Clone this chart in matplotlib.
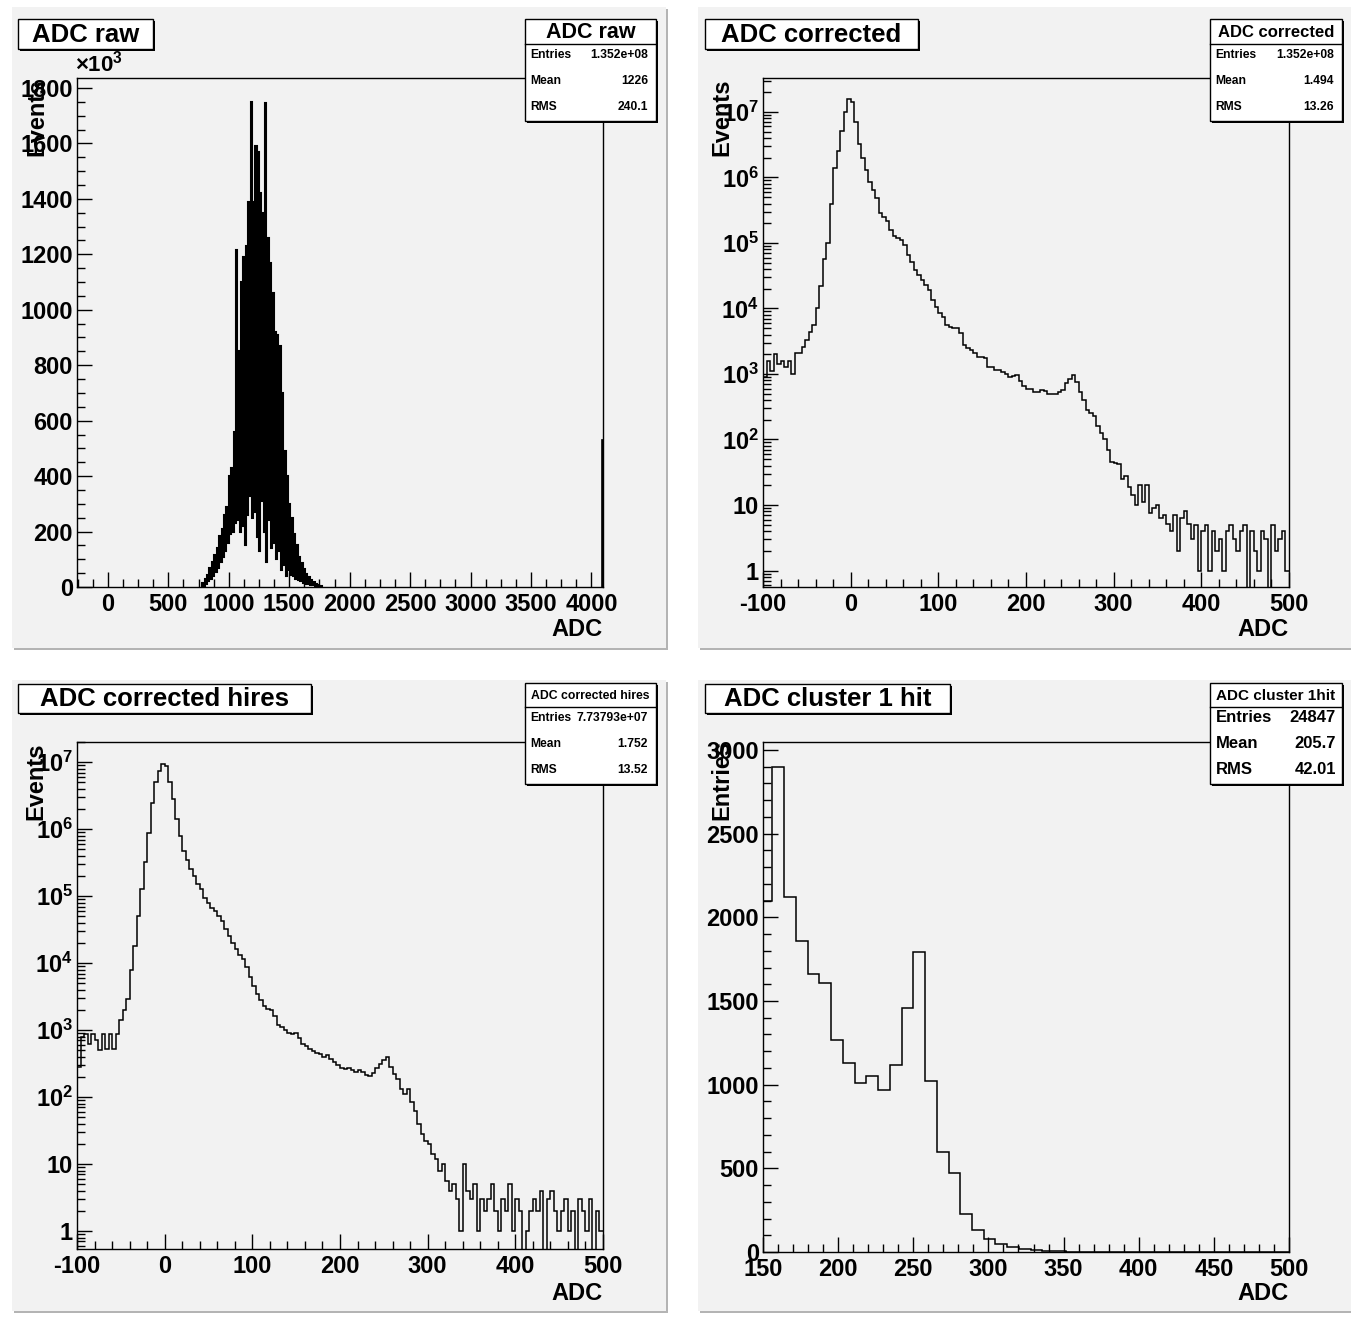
import numpy as np
import matplotlib.pyplot as plt
from matplotlib.patches import Rectangle
from matplotlib.lines import Line2D
from matplotlib.ticker import MultipleLocator, LogLocator, NullFormatter, FixedLocator, FixedFormatter

plt.rcParams['font.family'] = ['Liberation Sans', 'DejaVu Sans']
plt.rcParams['font.weight'] = 'bold'
plt.rcParams['axes.unicode_minus'] = False
plt.rcParams['mathtext.fontset'] = 'custom'
plt.rcParams['mathtext.rm'] = 'Liberation Sans'
plt.rcParams['mathtext.bf'] = 'Liberation Sans:bold'
plt.rcParams['mathtext.default'] = 'bf'

W, H = 1351, 1323
PAD = '#f2f2f2'

# ---- ADC raw (units of 10^3), comb: high bin / low bin pairs, 20 ADC per pair from 780
raw_start = 780
raw_hi = [15, 30, 45, 70, 90, 115, 140, 185, 210, 260,
          290, 400, 430, 560, 1216, 850, 1100, 1190, 1230, 1390,
          1750, 1390, 1590, 1570, 1420, 1350, 1745, 1260, 1170, 1060,
          920, 910, 870, 700, 490, 400, 300, 250, 190, 150,
          110, 85, 65, 48, 35, 25, 17, 11, 7, 4]
raw_lo = [5, 10, 20, 30, 40, 55, 70, 90, 110, 130,
          160, 190, 200, 230, 240, 200, 220, 150, 260, 330,
          250, 270, 180, 130, 310, 200, 90, 240, 140, 160,
          100, 130, 60, 80, 40, 60, 45, 40, 30, 25,
          20, 15, 12, 10, 8, 6, 4, 3, 2, 1]
raw_last = 530  # last bin (4086-4096)

# ---- ADC corrected, 4-ADC bins from -100 to 500
corr = [900, 1600, 1100, 2000, 1400, 1600, 1300, 1600, 1000, 2100,
        2100, 2600, 3300, 4300, 5600, 1.0e4, 2.2e4, 5.6e4, 1.0e5, 4.0e5,
        1.4e6, 2.5e6, 5.2e6, 1.0e7, 1.6e7, 1.4e7, 7.1e6, 3.2e6, 2.0e6, 1.3e6,
        8.5e5, 6.5e5, 4.9e5, 2.9e5, 2.5e5, 2.2e5, 1.6e5, 1.3e5, 1.2e5, 1.1e5,
        9.3e4, 6.6e4, 5.1e4, 3.9e4, 3.2e4, 2.7e4, 2.3e4, 1.9e4, 1.35e4, 1.07e4,
        8500, 7400, 5600, 5200, 5000, 5000, 4200, 2800, 2500, 2300,
        2100, 1800, 1800, 1740, 1300, 1260, 1150, 1150, 1070, 1000,
        910, 930, 980, 790, 650, 600, 600, 540, 540, 560,
        550, 490, 490, 500, 525, 575, 720, 830, 950, 760,
        540, 400, 280, 250, 230, 160, 126, 100, 69, 46,
        44, 42, 25, 28, 19, 14, 10, 20, 11, 20,
        7.6, 9, 10, 6.3, 7, 5.2, 4, 7, 2, 6.3,
        8, 5.2, 3, 5, 1, 4, 5, 1, 4, 2,
        3, 1, 4, 5, 3, 2, 4, 5, 0, 4,
        2, 1, 4, 3, 0, 5, 2, 3, 4, 1]

# ---- ADC corrected hires, 4-ADC bins from -100 to 500
hires = [280, 800, 890, 630, 890, 710, 500, 890, 520, 890,
         520, 890, 1400, 2000, 2950, 7900, 1.8e4, 5.0e4, 1.26e5, 3.2e5,
         8.9e5, 2.45e6, 5.0e6, 7.4e6, 9.3e6, 8.9e6, 5.0e6, 2.8e6, 1.4e6, 7.9e5,
         4.8e5, 3.5e5, 2.5e5, 2.0e5, 1.5e5, 1.26e5, 9.5e4, 7.9e4, 6.6e4, 6.0e4,
         5.0e4, 4.2e4, 3.2e4, 2.5e4, 2.0e4, 1.6e4, 1.3e4, 1.15e4, 8900, 6300,
         4500, 3500, 2800, 2300, 2100, 2000, 1600, 1200, 1100, 1000,
         910, 890, 910, 760, 630, 575, 525, 480, 460, 440,
         400, 425, 370, 330, 300, 275, 260, 275, 250, 240,
         255, 240, 215, 205, 230, 270, 315, 355, 400, 280,
         225, 185, 130, 112, 130, 85, 63, 40, 28, 22,
         20, 14, 12, 8, 10, 5.6, 4, 5, 3, 1,
         10, 4, 3, 5, 1, 3, 2, 3, 5, 2,
         1, 3, 2, 5, 1, 3, 2, 0, 1, 2,
         3, 2, 4, 0, 3, 4, 2, 1, 2, 3,
         1, 2, 0, 3, 2, 1, 3, 0, 2, 1]

# ---- ADC cluster 1 hit, 64 bins over 0-500, shown from bin 19 on
clus = [2100, 2900, 2120, 1860, 1660, 1610, 1270, 1130, 1010, 1050,
        970, 1120, 1460, 1790, 1020, 600, 470, 230, 130, 80,
        50, 30, 18, 10, 6, 4, 2, 1, 1, 0,
        0, 0, 0, 0, 0, 0, 0, 0, 0, 0,
        0, 0, 0, 0, 0]

log_ticks = [1, 10, 100, 1e3, 1e4, 1e5, 1e6, 1e7]
log_labels = ['1', '10', '$10^{2}$', '$10^{3}$', '$10^{4}$', '$10^{5}$', '$10^{6}$', '$10^{7}$']

fig = plt.figure(figsize=(W / 100, H / 100), dpi=100)
fig.patch.set_facecolor('white')


def rect(x0, y0, x1, y1, z, **kw):
    r = Rectangle((x0 / W, 1 - y1 / H), (x1 - x0) / W, (y1 - y0) / H,
                  transform=fig.transFigure, zorder=z, **kw)
    fig.add_artist(r)


def ftext(x, y, s, **kw):
    fig.text(x / W, 1 - y / H, s, **kw)


def hline(x0, x1, y, z=6):
    fig.add_artist(Line2D([x0 / W, x1 / W], [1 - y / H, 1 - y / H], color='black',
                          lw=1.0, transform=fig.transFigure, zorder=z))


def pad(x0, y0, x1, y1):
    rect(x0 + 2, y0 + 2, x1 + 2, y1 + 2, -3, facecolor='#b4b4b4', edgecolor='none')
    rect(x0, y0, x1, y1, -2, facecolor=PAD, edgecolor='none')


def title_box(x0, y0, x1, y1, s):
    rect(x0 + 2, y0 + 2, x1 + 2, y1 + 2, 5, facecolor='black', edgecolor='none')
    rect(x0, y0, x1, y1, 5.5, facecolor='white', edgecolor='black', lw=1.0)
    ftext((x0 + x1) / 2, (y0 + y1) / 2 + 1, s, ha='center', va='center',
          fontsize=18.5, zorder=7)


def stat_box(x0, y0, x1, y1, ysep, name, hsize, rows, rsize, rows_y, lx, rx):
    rect(x0 + 2, y0 + 2, x1 + 2, y1 + 2, 5, facecolor='black', edgecolor='none')
    rect(x0, y0, x1, y1, 5.5, facecolor='white', edgecolor='black', lw=1.0)
    hline(x0, x1, ysep)
    ftext((x0 + x1) / 2, (y0 + ysep) / 2 + 1, name, ha='center', va='center',
          fontsize=hsize, zorder=7)
    for (k, v), yy in zip(rows, rows_y):
        ftext(lx, yy, k, ha='left', va='center', fontsize=rsize, zorder=7)
        ftext(rx, yy, v, ha='right', va='center', fontsize=rsize, zorder=7)


def make_axes(x0, y0, x1, y1):
    ax = fig.add_axes([x0 / W, 1 - y1 / H, (x1 - x0) / W, (y1 - y0) / H])
    ax.set_facecolor(PAD)
    for s in ax.spines.values():
        s.set_linewidth(1.0)
    ax.tick_params(which='both', direction='in', top=False, right=False,
                   labelsize=17, width=1.0)
    ax.tick_params(axis='x', which='major', length=11, pad=4)
    ax.tick_params(axis='x', which='minor', length=5.5)
    ax.tick_params(axis='y', which='major', length=11, pad=3)
    ax.tick_params(axis='y', which='minor', length=5.5)
    return ax


def log_axis(ax):
    ax.set_yscale('log')
    ax.yaxis.set_major_locator(FixedLocator(log_ticks))
    ax.yaxis.set_major_formatter(FixedFormatter(log_labels))
    ax.yaxis.set_minor_locator(LogLocator(base=10, subs=np.arange(2, 10), numticks=30))
    ax.yaxis.set_minor_formatter(NullFormatter())


# pads
pad(12, 7, 666, 648)
pad(698, 7, 1351, 648)
pad(12, 680, 666, 1311)
pad(698, 680, 1351, 1311)

# ---------------- ADC raw
ax = make_axes(77, 78, 603, 587)
raw_vals = np.ravel(np.column_stack([raw_hi, raw_lo]))
raw_edges = raw_start + 10 * np.arange(len(raw_vals) + 1)
ax.stairs(raw_vals, raw_edges, color='black', lw=1.5, baseline=0)
ax.stairs([raw_last], [4086, 4096], color='black', lw=1.2, baseline=0)
ax.set_xlim(-256, 4096)
ax.set_ylim(0, 1836)
ax.xaxis.set_major_locator(MultipleLocator(500))
ax.xaxis.set_minor_locator(MultipleLocator(125))
ax.yaxis.set_major_locator(MultipleLocator(200))
ax.yaxis.set_minor_locator(MultipleLocator(50))
ftext(75, 64, r'$\mathrm{\times10^{3}}$', ha='left', va='center', fontsize=16,
      fontweight='normal')
ftext(603, 630, 'ADC', ha='right', va='center', fontsize=17)
ftext(37, 79, 'Events', ha='center', va='top', rotation=90, fontsize=17)
title_box(18, 19, 153, 49, 'ADC raw')
stat_box(525, 19, 656, 121, 44, 'ADC raw', 15.5,
         [('Entries', '1.352e+08'), ('Mean', '1226'), ('RMS', '240.1')], 8.7,
         [55, 81, 107], 530, 648)

# ---------------- ADC corrected
edges4 = np.arange(-100, 501, 4)
ax = make_axes(763, 78, 1289, 587)
cv = np.array(corr, dtype=float)
ax.stairs(np.where(cv > 0, cv, 1e-2), edges4, color='black', lw=1.1, baseline=None)
log_axis(ax)
ax.set_xlim(-100, 500)
ax.set_ylim(0.56, 3.3e7)
ax.xaxis.set_major_locator(MultipleLocator(100))
ax.xaxis.set_minor_locator(MultipleLocator(20))
ftext(1289, 630, 'ADC', ha='right', va='center', fontsize=17)
ftext(722, 79, 'Events', ha='center', va='top', rotation=90, fontsize=17)
title_box(705, 19, 918, 49, 'ADC corrected')
stat_box(1210, 19, 1342, 121, 44, 'ADC corrected', 12,
         [('Entries', '1.352e+08'), ('Mean', '1.494'), ('RMS', '13.26')], 8.7,
         [55, 81, 107], 1215, 1334)

# ---------------- ADC corrected hires
ax = make_axes(77, 742, 603, 1249)
hv = np.array(hires, dtype=float)
ax.stairs(np.where(hv > 0, hv, 1e-2), edges4, color='black', lw=1.1, baseline=None)
log_axis(ax)
ax.set_xlim(-100, 500)
ax.set_ylim(0.54, 2.0e7)
ax.xaxis.set_major_locator(MultipleLocator(100))
ax.xaxis.set_minor_locator(MultipleLocator(20))
ftext(603, 1293, 'ADC', ha='right', va='center', fontsize=17)
ftext(36, 742, 'Events', ha='center', va='top', rotation=90, fontsize=17)
title_box(18, 684, 311, 713, 'ADC corrected hires')
stat_box(525, 683, 656, 784, 707, 'ADC corrected hires', 8.8,
         [('Entries', '7.73793e+07'), ('Mean', '1.752'), ('RMS', '13.52')], 8.7,
         [718, 744, 770], 530, 648)

# ---------------- ADC cluster 1 hit
ax = make_axes(763, 742, 1289, 1252)
clus_edges = np.linspace(0, 500, 65)[19:]
ax.stairs(clus, clus_edges, color='black', lw=1.1, baseline=0)
ax.set_xlim(150, 500)
ax.set_ylim(0, 3048)
ax.xaxis.set_major_locator(MultipleLocator(50))
ax.xaxis.set_minor_locator(MultipleLocator(10))
ax.yaxis.set_major_locator(MultipleLocator(500))
ax.yaxis.set_minor_locator(MultipleLocator(100))
ftext(1289, 1293, 'ADC', ha='right', va='center', fontsize=17)
ftext(722, 740, 'Entries', ha='center', va='top', rotation=90, fontsize=17)
title_box(705, 684, 950, 713, 'ADC cluster 1 hit')
stat_box(1210, 683, 1342, 784, 707, 'ADC cluster 1hit', 11,
         [('Entries', '24847'), ('Mean', '205.7'), ('RMS', '42.01')], 12,
         [718, 744, 770], 1216, 1336)

fig.savefig('out.png', dpi=100)
